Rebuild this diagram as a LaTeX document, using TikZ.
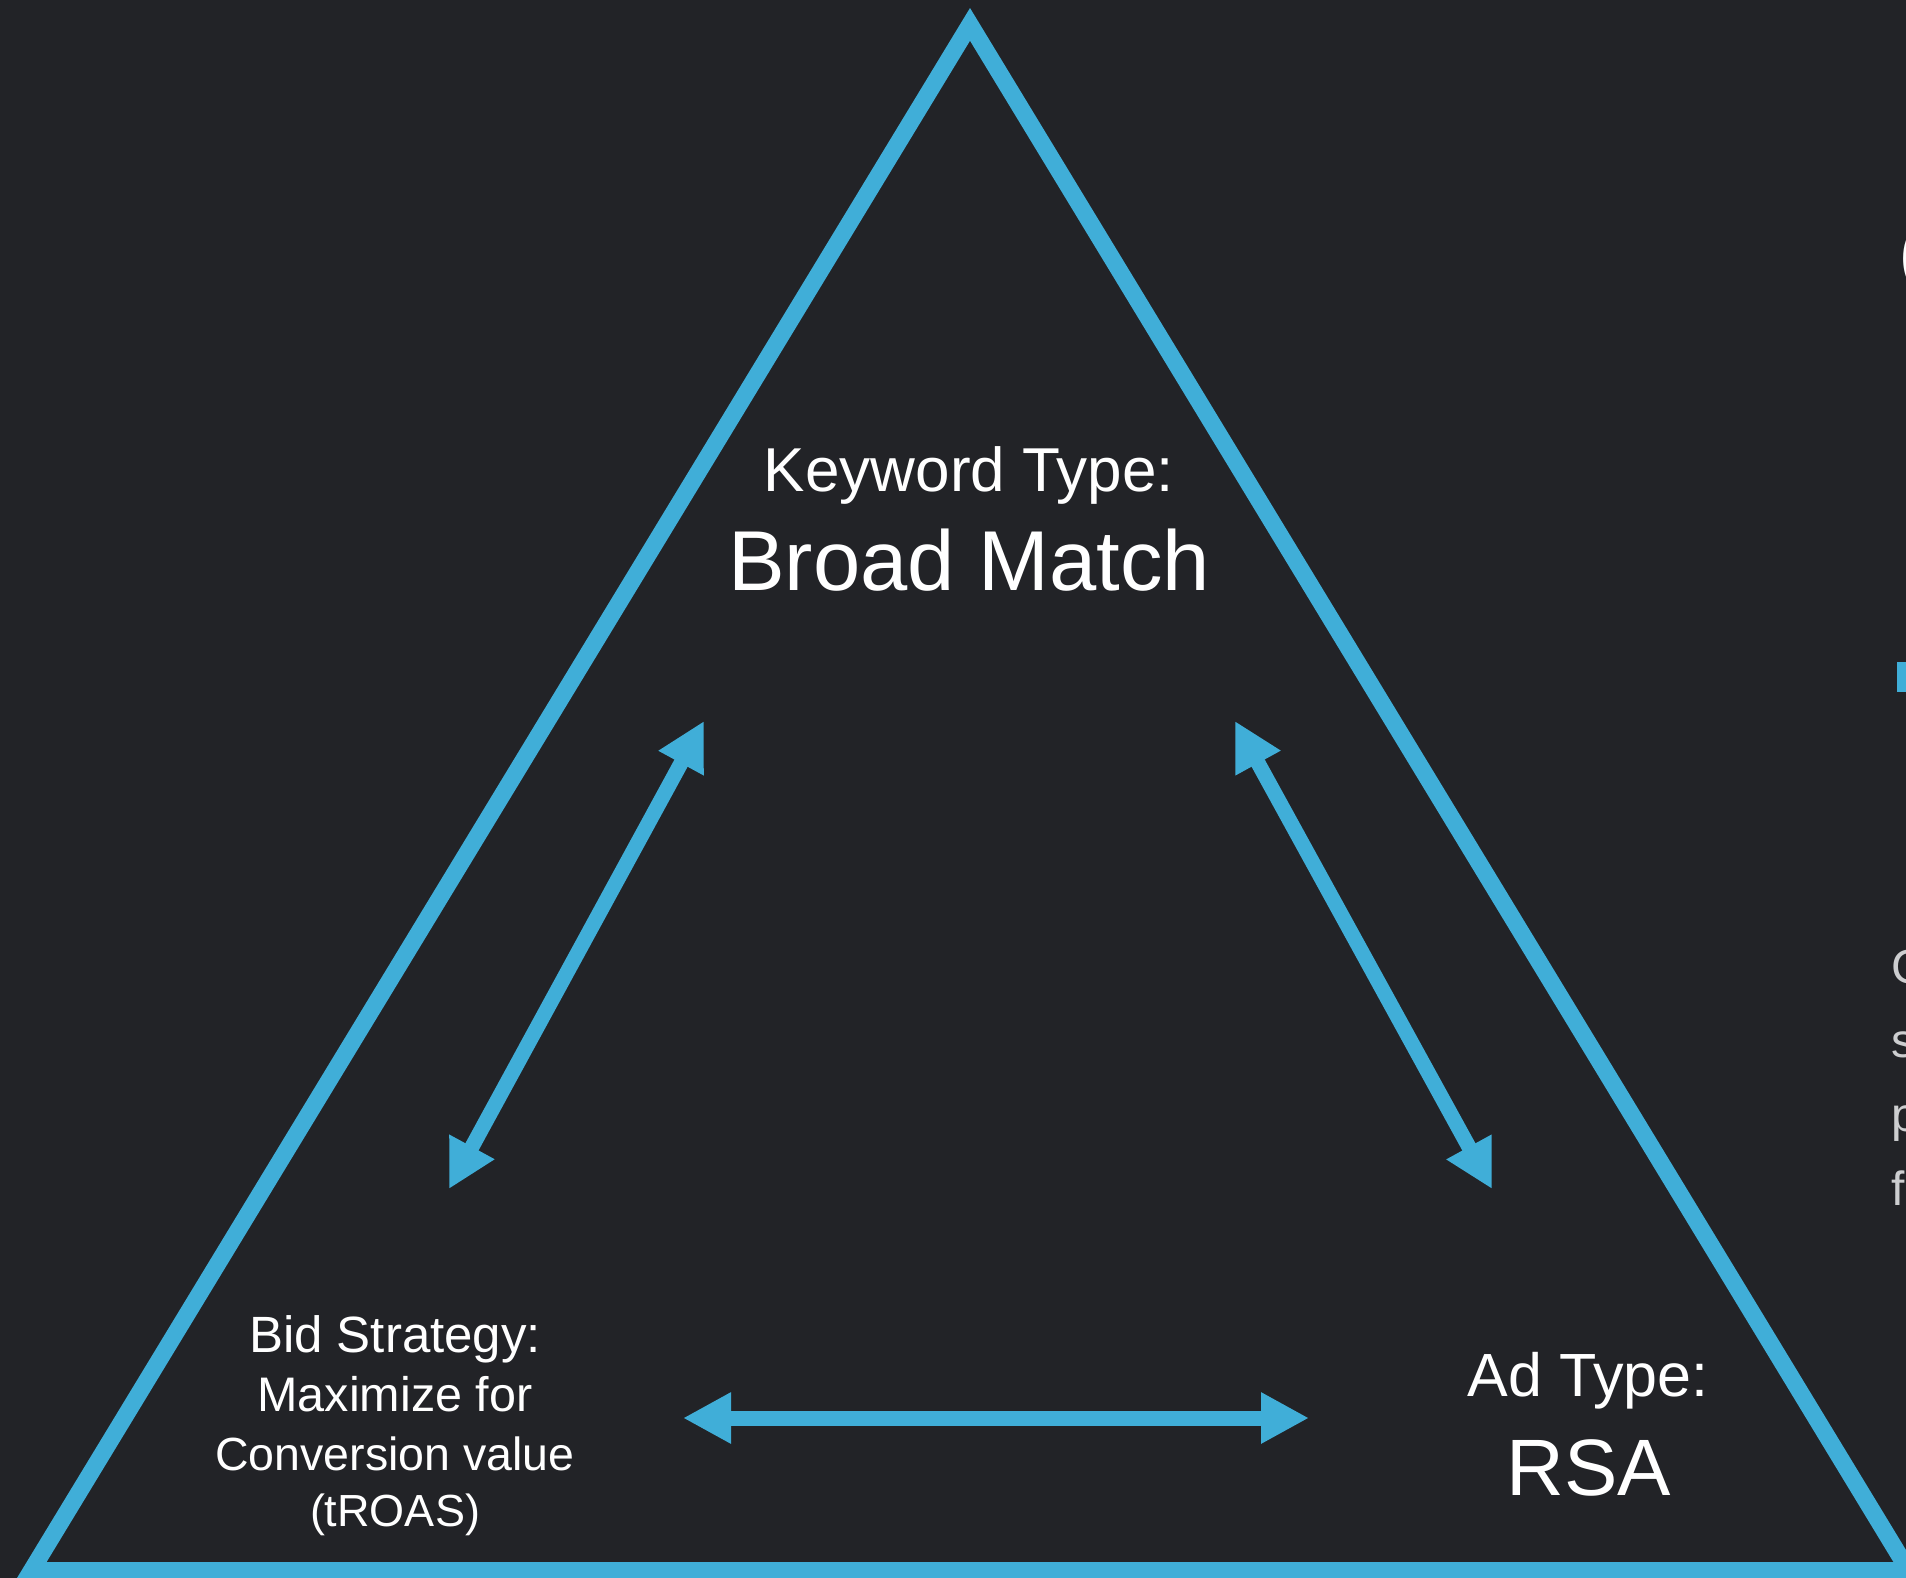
\documentclass[tikz,border=0pt]{standalone}
\usepackage{fontspec}
\setmainfont{Liberation Sans}
\usetikzlibrary{arrows.meta}

\definecolor{bgdark}{RGB}{34,35,39}
\definecolor{skyblue}{RGB}{64,174,216}
\definecolor{softgray}{RGB}{205,206,208}

\tikzset{
  frame/.style={draw=skyblue, line width=17pt, line join=miter},
  link/.style={draw=skyblue, line width=15pt,
    {Triangle[length=48pt,width=48pt]}-{Triangle[length=48pt,width=48pt]}},
  label/.style={text=white, inner sep=0pt, anchor=base},
  sidetext/.style={text=softgray, inner sep=0pt, anchor=base west,
    font=\fontsize{48}{56}\selectfont},
}

\begin{document}
\begin{tikzpicture}[x=1pt, y=-1pt]
  % canvas
  \useasboundingbox (0,0) rectangle (1906,1578);
  \clip (0,0) rectangle (1906,1578);
  \fill[bgdark] (0,0) rectangle (1906,1578);

  % outer triangle
  \coordinate (apex) at (970,24.4);
  \coordinate (baseL) at (31.5,1570.5);
  \coordinate (baseR) at (1908.5,1570.5);
  \draw[frame] (apex) -- (baseR) -- (baseL) -- cycle;

  % labels at the three corners
  \node[label, font=\fontsize{62}{70}\selectfont] (kwtitle) at (969,491) {Keyword Type:};
  \node[label, font=\fontsize{85}{95}\selectfont] (kwvalue) at (969,590) {Broad Match};

  \node[label, font=\fontsize{51}{58}\selectfont] (bidA) at (395,1352) {Bid Strategy:};
  \node[label, font=\fontsize{48.5}{56}\selectfont] (bidB) at (395,1411) {Maximize for};
  \node[label, font=\fontsize{46.5}{56}\selectfont] (bidC) at (395,1470) {Conversion value};
  \node[label, font=\fontsize{45}{56}\selectfont] (bidD) at (395,1526) {(tROAS)};

  \node[label, font=\fontsize{61}{70}\selectfont] (adtitle) at (1588,1396) {Ad Type:};
  \node[label, font=\fontsize{80}{92}\selectfont] (advalue) at (1589,1495) {RSA};

  % ends of the double arrows
  \coordinate (kwL) at (704,721);
  \coordinate (bidT) at (449,1189);
  \coordinate (kwR) at (1235,721);
  \coordinate (adT) at (1492,1189);
  \coordinate (bidR) at (683,1418);
  \coordinate (adL) at (1309,1418);

  \draw[link] (bidT) -- (kwL);
  \draw[link] (kwR) -- (adT);
  \draw[link] (bidR) -- (adL);

  % content running off the right edge
  \node[text=white, inner sep=0pt, anchor=base west,
        font=\fontsize{120}{130}\selectfont] (headcut) at (1897,301) {C};
  \fill[skyblue] (1897,662) rectangle (1930,692);
  \node[sidetext] (lineA) at (1891,983) {G};
  \node[sidetext] (lineB) at (1891,1057) {s};
  \node[sidetext] (lineC) at (1891,1131) {p};
  \node[sidetext] (lineD) at (1891,1205) {f};
\end{tikzpicture}
\end{document}
